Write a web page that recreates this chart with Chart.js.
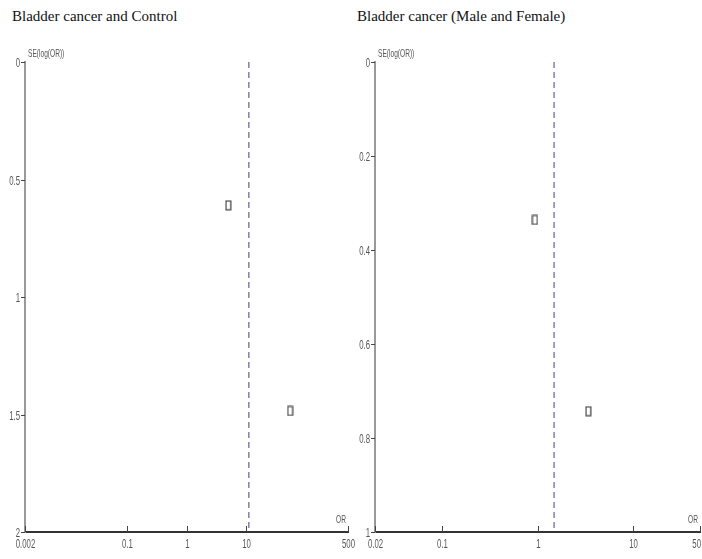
<!DOCTYPE html>
<html>
<head>
<meta charset="utf-8">
<script src="https://cdn.jsdelivr.net/npm/chart.js@4"></script>
<style>
  body { margin: 0; background: #fff; width: 702px; height: 559px; position: relative; overflow: hidden; }
  .title { position: absolute; top: 8px; line-height: 17px; font-family: 'Liberation Serif', 'DejaVu Serif', serif; font-size: 15px; color: #111; }
  .wrap { position: absolute; top: 0; height: 559px; }
</style>
</head>
<body>
<div class="title" style="left:12px">Bladder cancer and Control</div>
<div class="title" style="left:357px">Bladder cancer (Male and Female)</div>
<div class="wrap" style="left:0;width:360px"><canvas id="left"></canvas></div>
<div class="wrap" style="left:350px;width:352px"><canvas id="right"></canvas></div>
<script>
// ── Data ────────────────────────────────────────────
// panel 1: Bladder cancer and Control
const leftOR = [5.0, 54];
const leftSE = [0.61, 1.485];
const leftPooled = 11.0;
const leftXTicks = [0.002, 0.1, 1, 10, 500];
const leftYTicks = [0, 0.5, 1, 1.5, 2];

// panel 2: Bladder cancer (Male and Female)
const rightOR = [0.94, 3.4];
const rightSE = [0.336, 0.743];
const rightPooled = 1.49;
const rightXTicks = [0.02, 0.1, 1, 10, 50];
const rightYTicks = [0, 0.2, 0.4, 0.6, 0.8, 1];

// ── Marker: small open rectangle ───────────────────
const marker = document.createElement('canvas');
marker.width = 7; marker.height = 11;
(function () {
    const c = marker.getContext('2d');
    c.fillStyle = '#fff';
    c.fillRect(1, 1, 5, 9);
    c.strokeStyle = '#444';
    c.lineWidth = 1.2;
    c.strokeRect(1.1, 1.1, 4.8, 8.8);
})();

const NARROW = "'Liberation Sans Narrow','Liberation Sans',Arial,sans-serif";
const SQUEEZE = 0.6;

// condensed text, like the original export
function narrowText(ctx, text, x, y, align, base) {
    ctx.save();
    ctx.translate(x, y);
    ctx.scale(SQUEEZE, 1);
    ctx.textAlign = align;
    ctx.textBaseline = base;
    ctx.fillText(text, 0, 0);
    ctx.restore();
}

// tick marks + labels + axis captions, placed through the chart scales
function axesPlugin(xTicks, yTicks) {
    return {
        id: 'funnelAxes',
        afterDraw(chart) {
            const { ctx, chartArea: a, scales: { x, y } } = chart;
            ctx.save();
            ctx.strokeStyle = '#444';
            ctx.lineWidth = 1;
            ctx.fillStyle = '#555';
            ctx.font = '13px ' + NARROW;
            xTicks.forEach(v => {
                const px = Math.round(x.getPixelForValue(v)) + 0.5;
                ctx.beginPath();
                ctx.moveTo(px, a.bottom);
                ctx.lineTo(px, a.bottom - 6);
                ctx.stroke();
                const label = String(v);
                const half = ctx.measureText(label).width * SQUEEZE / 2;
                if (px + half > chart.width - 1) {
                    narrowText(ctx, label, chart.width - 1, a.bottom + 6, 'right', 'top');
                } else {
                    narrowText(ctx, label, px, a.bottom + 6, 'center', 'top');
                }
            });
            yTicks.forEach(v => {
                const py = Math.round(y.getPixelForValue(v)) + 0.5;
                ctx.beginPath();
                ctx.moveTo(a.left - 4, py);
                ctx.lineTo(a.left, py);
                ctx.stroke();
                narrowText(ctx, String(v), a.left - 5, py + 1, 'right', 'middle');
            });
            ctx.font = '11px ' + NARROW;
            narrowText(ctx, 'SE(log(OR))', a.left + 3, a.top - 3, 'left', 'bottom');
            narrowText(ctx, 'OR', a.right - 2, a.bottom - 7, 'right', 'bottom');
            ctx.restore();
        }
    };
}

function funnel(id, ors, ses, pooled, xTicks, yTicks, padRight) {
    const xMin = xTicks[0], xMax = xTicks[xTicks.length - 1];
    const yMax = yTicks[yTicks.length - 1];
    return new Chart(document.getElementById(id), {
        type: 'scatter',
        data: {
            datasets: [{
                data: ors.map((v, i) => ({ x: v, y: ses[i] })),
                pointStyle: marker,
                pointRadius: 5,
                order: 1
            }, {
                type: 'line',
                data: [{ x: pooled, y: 0 }, { x: pooled, y: yMax }],
                borderColor: '#8080ae',
                borderWidth: 1.5,
                borderDash: [6, 4],
                pointRadius: 0,
                order: 2
            }]
        },
        options: {
            responsive: true,
            maintainAspectRatio: false,
            animation: false,
            layout: { autoPadding: false, padding: { top: 62, right: padRight, left: 0, bottom: 0 } },
            plugins: { legend: { display: false }, tooltip: { enabled: false } },
            scales: {
                x: {
                    type: 'logarithmic',
                    min: xMin, max: xMax,
                    afterBuildTicks: s => { s.ticks = xTicks.map(v => ({ value: v })); },
                    afterFit: s => { s.height = 27; s.paddingLeft = 0; s.paddingRight = 0; },
                    border: { display: true, color: '#333', width: 2 },
                    grid: { display: false },
                    ticks: { display: false }
                },
                y: {
                    reverse: true,
                    min: 0, max: yMax,
                    afterBuildTicks: s => { s.ticks = yTicks.map(v => ({ value: v })); },
                    afterFit: s => { s.width = 25; s.paddingTop = 0; s.paddingBottom = 0; },
                    border: { display: true, color: '#999', width: 2 },
                    grid: { display: false },
                    ticks: { display: false }
                }
            }
        },
        plugins: [axesPlugin(xTicks, yTicks)]
    });
}

funnel('left', leftOR, leftSE, leftPooled, leftXTicks, leftYTicks, 12);
funnel('right', rightOR, rightSE, rightPooled, rightXTicks, rightYTicks, 2);
</script>
</body>
</html>
